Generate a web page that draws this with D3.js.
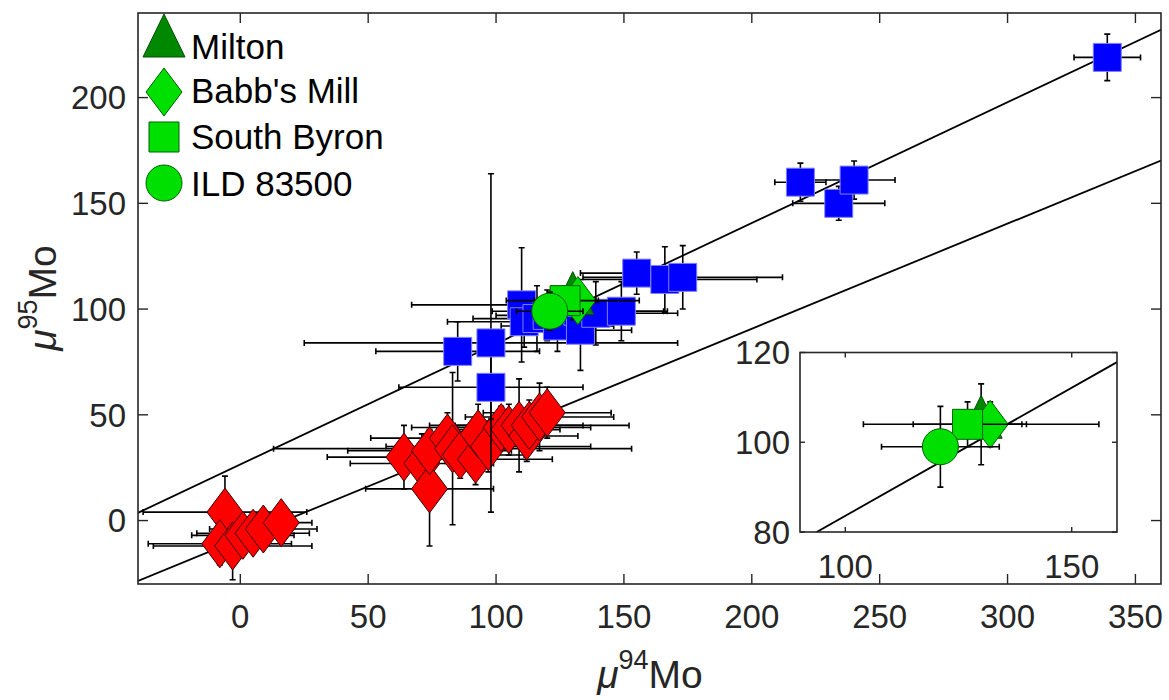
<!DOCTYPE html>
<html>
<head>
<meta charset="utf-8">
<script src="https://cdn.jsdelivr.net/npm/d3@7"></script>
<style>
  html, body { margin: 0; padding: 0; background: #fff; }
  svg { display: block; font-family: "Liberation Sans", Arial, Helvetica, sans-serif; }
</style>
</head>
<body>
<svg id="chart" width="1169" height="700"></svg>
<script>
// Each point: [mu94Mo, mu95Mo, err94, err95]
const redPoints = [
  [-6, 4, 32, 17], [-8, -11, 28, 10], [-3, -12, 31, 16], [1, -7, 20, 8],
  [5, -6, 22, 8], [9, -4, 21, 8], [16, -1, 12, 8],
  [64, 30, 30, 15], [71, 27, 28, 14], [74, 15, 25, 27], [74, 33, 32, 10],
  [81, 39, 30, 12], [83, 34, 70, 36], [86, 31, 25, 11], [92, 29, 30, 12],
  [93, 41, 20, 14], [97, 35, 40, 12], [102, 44, 35, 10], [105, 43, 20, 12],
  [109, 45, 25, 22], [112, 40, 20, 12], [113, 45, 39, 12], [117, 49, 29, 16],
  [120, 51, 25, 12]
];
const bluePoints = [
  [85, 80, 32, 14], [98, 84, 73, 80], [98, 63, 36, 15], [110, 102, 43, 27],
  [111, 94, 30, 12], [116, 95.5, 25, 15.5], [120, 97, 20, 12], [124, 92, 22, 12],
  [132, 99, 33.5, 12], [133, 90, 20, 19], [139, 98, 32, 15], [149, 99, 18, 14],
  [155, 117, 22, 10], [166, 114, 36, 15.5], [173, 115, 39, 15],
  [219, 160, 10, 9], [234, 150, 18, 8], [240, 161, 16, 9], [339, 219, 13, 11]
];
const miltonPoints = [[130, 104, 26, 9]];
const babbsMillPoints = [[132, 104, 8, 5]];
const southByronPoints = [[127, 104, 12, 5]];
const ildPoints = [[121, 99, 13, 9]];

const legendLabels = ["Milton", "Babb's Mill", "South Byron", "ILD 83500"];

// Reference lines: [slope, intercept]
const lineMain = [0.571, 26.5];
const lineLower = [0.497, -8.7];

const xTicks = [0, 50, 100, 150, 200, 250, 300, 350];
const yTicks = [0, 50, 100, 150, 200];
const insetXTicks = [100, 150];
const insetYTicks = [80, 100, 120];

const svg = d3.select("#chart");
const axisColor = "#262626";
const greenLight = "#00e000", greenDark = "#008800";

const x = d3.scaleLinear().domain([-40, 360]).range([138, 1161]);
const y = d3.scaleLinear().domain([-30, 240]).range([584, 13]);

const xi = d3.scaleLinear().domain([90, 160]).range([800, 1117]);
const yi = d3.scaleLinear().domain([80, 120]).range([532, 352.5]);

// marker path generators (centered at 0,0)
const shapes = {
  diamond: "M0,-24L18,0L0,24L-18,0Z",
  square: s => `M${-s/2},${-s/2}h${s}v${s}h${-s}Z`,
  triangle: "M0,-29L21,14L-21,14Z",
  circle: "M18,0A18,18 0 1,1 -18,0A18,18 0 1,1 18,0Z"
};

function defineClip(id, xs, ys) {
  svg.append("clipPath").attr("id", id).append("rect")
    .attr("x", xs.range()[0]).attr("y", ys.range()[1])
    .attr("width", xs.range()[1] - xs.range()[0])
    .attr("height", ys.range()[0] - ys.range()[1]);
}
defineClip("clipMain", x, y);
defineClip("clipInset", xi, yi);

function drawLine(g, xs, ys, line) {
  const [a, b] = line;
  const [x0, x1] = xs.domain();
  g.append("line")
    .attr("x1", xs(x0)).attr("y1", ys(a * x0 + b))
    .attr("x2", xs(x1)).attr("y2", ys(a * x1 + b))
    .attr("stroke", "#000").attr("stroke-width", 1.8);
}

function drawSeries(g, xs, ys, pts, path, fill, stroke) {
  const cap = 3;
  const bars = g.append("g").attr("stroke", "#000").attr("stroke-width", 1.6).attr("fill", "none");
  pts.forEach(([px, py, ex, ey]) => {
    const cx = xs(px), cy = ys(py);
    const xl = xs(px - ex), xr = xs(px + ex), yt = ys(py + ey), yb = ys(py - ey);
    bars.append("path").attr("d",
      `M${xl},${cy}H${xr}M${xl},${cy - cap}V${cy + cap}M${xr},${cy - cap}V${cy + cap}` +
      `M${cx},${yt}V${yb}M${cx - cap},${yt}H${cx + cap}M${cx - cap},${yb}H${cx + cap}`);
  });
  g.append("g").selectAll("path").data(pts).join("path")
    .attr("d", path)
    .attr("transform", d => `translate(${xs(d[0])},${ys(d[1])})`)
    .attr("fill", fill).attr("stroke", stroke).attr("stroke-width", 1);
}

// ---------- main axes ----------
const main = svg.append("g").attr("clip-path", "url(#clipMain)");
drawLine(main, x, y, lineMain);
drawLine(main, x, y, lineLower);
drawSeries(main, x, y, redPoints, shapes.diamond, "#ff0000", "#3a0000");
drawSeries(main, x, y, bluePoints, shapes.square(28), "#0000ff", "#8080ff");
drawSeries(main, x, y, miltonPoints, shapes.triangle, greenDark, "#005000");
drawSeries(main, x, y, babbsMillPoints, shapes.diamond, greenLight, "#006000");
drawSeries(main, x, y, southByronPoints, shapes.square(30), greenLight, "#006000");
drawSeries(main, x, y, ildPoints, shapes.circle, greenLight, "#006000");

function drawFrame(xs, ys, xt, yt, tickLen, fontSize, labelGap, yLabelGap) {
  const g = svg.append("g");
  const [L, R] = xs.range(), [B, T] = ys.range();
  g.append("rect").attr("x", L).attr("y", T).attr("width", R - L).attr("height", B - T)
    .attr("fill", "none").attr("stroke", axisColor).attr("stroke-width", 1.6);
  xt.forEach(v => {
    g.append("line").attr("x1", xs(v)).attr("x2", xs(v)).attr("y1", B).attr("y2", B - tickLen)
      .attr("stroke", axisColor).attr("stroke-width", 1.4);
    g.append("line").attr("x1", xs(v)).attr("x2", xs(v)).attr("y1", T).attr("y2", T + tickLen)
      .attr("stroke", axisColor).attr("stroke-width", 1.4);
    g.append("text").attr("x", xs(v)).attr("y", B + labelGap).attr("text-anchor", "middle")
      .attr("font-size", fontSize).attr("fill", axisColor).text(v);
  });
  yt.forEach(v => {
    g.append("line").attr("x1", L).attr("x2", L + tickLen).attr("y1", ys(v)).attr("y2", ys(v))
      .attr("stroke", axisColor).attr("stroke-width", 1.4);
    g.append("line").attr("x1", R).attr("x2", R - tickLen).attr("y1", ys(v)).attr("y2", ys(v))
      .attr("stroke", axisColor).attr("stroke-width", 1.4);
    g.append("text").attr("x", L - yLabelGap).attr("y", ys(v) + fontSize * 0.36)
      .attr("text-anchor", "end").attr("font-size", fontSize).attr("fill", axisColor).text(v);
  });
}
drawFrame(x, y, xTicks, yTicks, 10, 33, 44, 12);

// axis titles
const xTitle = svg.append("text").attr("x", 650).attr("y", 688).attr("text-anchor", "middle")
  .attr("font-size", 39).attr("fill", axisColor);
xTitle.append("tspan").attr("font-style", "italic").text("μ");
xTitle.append("tspan").attr("font-size", 27).attr("dy", -19).text("94");
xTitle.append("tspan").attr("dy", 19).text("Mo");

const yTitle = svg.append("text").attr("transform", "translate(56,298) rotate(-90)")
  .attr("text-anchor", "middle").attr("font-size", 39).attr("fill", axisColor);
yTitle.append("tspan").attr("font-style", "italic").text("μ");
yTitle.append("tspan").attr("font-size", 27).attr("dy", -19).text("95");
yTitle.append("tspan").attr("dy", 19).text("Mo");

// legend
const legendShapes = [
  [shapes.triangle, greenDark, "#005000"],
  [shapes.diamond, greenLight, "#006000"],
  [shapes.square(30), greenLight, "#006000"],
  [shapes.circle, greenLight, "#006000"]
];
const legendBaselines = [59, 103, 149, 196];
const legendShift = [-16, -11, -12, -13];
legendLabels.forEach((lab, i) => {
  svg.append("path").attr("d", legendShapes[i][0])
    .attr("transform", `translate(164,${legendBaselines[i] + legendShift[i]})`)
    .attr("fill", legendShapes[i][1]).attr("stroke", legendShapes[i][2]).attr("stroke-width", 1);
  svg.append("text").attr("x", 191).attr("y", legendBaselines[i]).attr("font-size", 35)
    .attr("fill", "#000").text(lab);
});

// ---------- inset ----------
svg.append("rect").attr("x", xi.range()[0]).attr("y", yi.range()[1])
  .attr("width", xi.range()[1] - xi.range()[0]).attr("height", yi.range()[0] - yi.range()[1])
  .attr("fill", "#fff");
const inset = svg.append("g").attr("clip-path", "url(#clipInset)");
drawLine(inset, xi, yi, lineMain);
drawSeries(inset, xi, yi, miltonPoints, shapes.triangle, greenDark, "#005000");
drawSeries(inset, xi, yi, babbsMillPoints, shapes.diamond, greenLight, "#006000");
drawSeries(inset, xi, yi, southByronPoints, shapes.square(30), greenLight, "#006000");
drawSeries(inset, xi, yi, ildPoints, shapes.circle, greenLight, "#006000");
drawFrame(xi, yi, insetXTicks, insetYTicks, 5, 33, 46, 10);
</script>
</body>
</html>
